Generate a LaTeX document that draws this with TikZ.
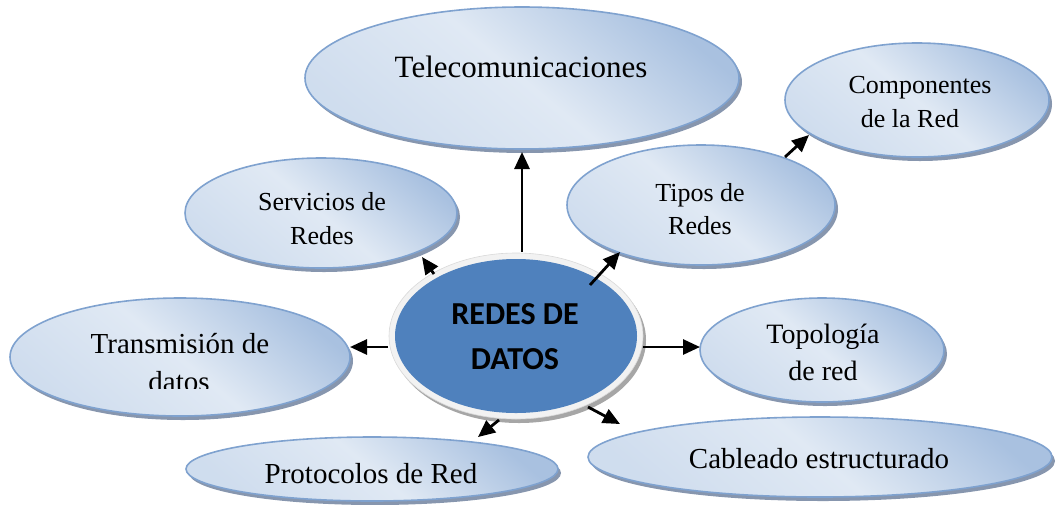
\documentclass[tikz,border=0pt]{standalone}
\usepackage{fontspec}
\setmainfont{Liberation Serif}
\newfontfamily\calibrifont{Carlito}
\usetikzlibrary{shapes.geometric,shadows,calc,arrows.meta}
\definecolor{bord}{HTML}{7FA2CF}
\definecolor{lite}{HTML}{E0E9F4}
\definecolor{dark}{HTML}{A9C1E0}
\definecolor{shad}{HTML}{8796AE}
\definecolor{core}{HTML}{4F81BD}
\definecolor{rimc}{HTML}{F2F2F2}
\newcommand\fsz[1]{\fontsize{#1}{#1}\selectfont}
\tikzset{
  bubble/.style={ellipse, inner sep=0pt, draw=bord, line width=1.6pt,
    top color=dark, bottom color=lite!70!dark, middle color=lite, shading angle=-40,
    drop shadow={shadow xshift=3pt, shadow yshift=-4pt, fill=shad, opacity=1}},
  rimstyle/.style={ellipse, inner sep=0pt, fill=rimc, draw=black!15, line width=0.6pt,
    drop shadow={shadow xshift=3pt, shadow yshift=-4pt, fill=black!35, opacity=1}},
  corestyle/.style={ellipse, inner sep=0pt, fill=core},
  txt/.style={inner sep=0pt, anchor=base},
  arr/.style={line width=2.8pt, -{Triangle[length=17pt,width=15pt]}},
}
\begin{document}
\begin{tikzpicture}[x=1pt,y=-1pt]
\useasboundingbox (0,0) rectangle (1056,504);
% bubbles
\node[bubble, minimum width=434pt, minimum height=142pt] (tele) at (522,78) {};
\node[bubble, minimum width=264pt, minimum height=114pt] (comp) at (917,100) {};
\node[bubble, minimum width=272pt, minimum height=110pt] (serv) at (321,213) {};
\node[bubble, minimum width=268pt, minimum height=120pt] (tipos) at (701,205) {};
\node[bubble, minimum width=340pt, minimum height=118pt] (trans) at (180,357) {};
\node[bubble, minimum width=244pt, minimum height=104pt] (topo) at (822,350) {};
\node[bubble, minimum width=372pt, minimum height=64pt] (prot) at (372,469) {};
\node[bubble, minimum width=464pt, minimum height=80pt] (cab) at (820,457) {};
% centre
\node[rimstyle, minimum width=254pt, minimum height=166pt] (c) at (516,336) {};
\node[corestyle, minimum width=242pt, minimum height=154pt] (cin) at (c) {};
% texts
\node[txt, font=\fsz{31}] (tele-t) at (521,77) {Telecomunicaciones};
\node[txt, font=\fsz{26}] (comp-t1) at (920,93) {Componentes};
\node[txt, font=\fsz{26}] (comp-t2) at (910,127) {de la Red};
\node[txt, font=\fsz{26}] (serv-t1) at (322,210) {Servicios de};
\node[txt, font=\fsz{26}] (serv-t2) at (322,244) {Redes};
\node[txt, font=\fsz{26}] (tipos-t1) at (700,201) {Tipos de};
\node[txt, font=\fsz{26}] (tipos-t2) at (700,234) {Redes};
\node[txt, font=\fsz{29}] (trans-t1) at (180,353) {Transmisión de};
\begin{scope}
  \clip (0,0) rectangle (1056,388);
  \node[txt, font=\fsz{29}] (trans-t2) at (179,391) {datos};
\end{scope}
\node[txt, font=\fsz{28}] (topo-t1) at (823,343) {Topología};
\node[txt, font=\fsz{28}] (topo-t2) at (823,380) {de red};
\node[txt, font=\fsz{29}] (prot-t) at (371,483) {Protocolos de Red};
\node[txt, font=\fsz{29}] (cab-t) at (819,468) {Cableado estructurado};
\node[txt, font=\calibrifont\bfseries\fsz{32}] (c-t1) at (515,324) {REDES DE};
\node[txt, font=\calibrifont\bfseries\fsz{32}] (c-t2) at (515,369) {DATOS};
% arrows
\draw[arr] ($(c)+(6,-84)$) -- ($(tele)+(0,74)$);
\draw[arr] ($(c)+(74,-51)$) -- ($(tipos)+(-81,47)$);
\draw[arr] ($(tipos)+(84,-48)$) -- ($(comp)+(-108,35)$);
\draw[arr] ($(c)+(-82,-62)$) -- ($(serv)+(101,44)$);
\draw[arr] ($(c)+(-128,11)$) -- ($(trans)+(170,-10)$);
\draw[arr] ($(c)+(127,11)$) -- ($(topo)+(-122,-3)$);
\draw[arr] ($(c)+(72,71)$) -- ($(cab)+(-200,-33)$);
\draw[arr] ($(c)+(-17,84)$) -- ($(prot)+(106,-32)$);
\end{tikzpicture}
\end{document}
